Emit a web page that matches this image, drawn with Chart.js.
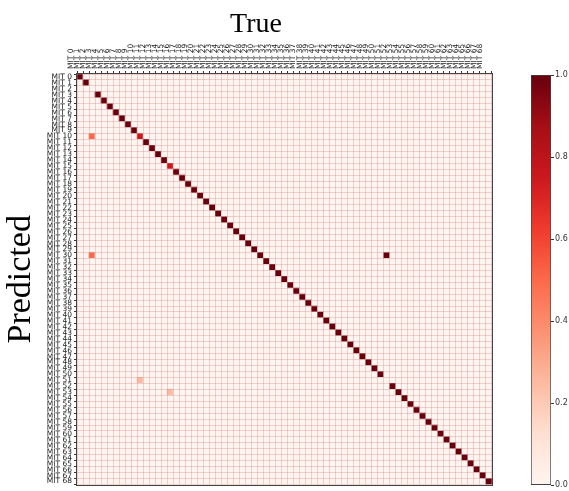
<!DOCTYPE html>
<html lang="en">
<head>
    <meta charset="UTF-8">
    <title>Confusion matrix</title>
    <script src="https://cdn.jsdelivr.net/npm/chart.js"></script>
    <style>
        body {
            margin: 0;
            background: #ffffff;
        }

        #wrap {
            position: relative;
            width: 569px;
            height: 491px;
            overflow: hidden;
        }

        #matrix {
            position: absolute;
            left: 0;
            top: 0;
        }

        #cbar {
            position: absolute;
            left: 500px;
            top: 60px;
        }

        #trueTitle {
            position: absolute;
            left: 156px;
            width: 200px;
            top: 9px;
            text-align: center;
            font-family: 'Liberation Serif', serif;
            font-size: 28px;
            line-height: 1;
            color: #000;
        }
    </style>
    <script>
        // class names (same list for rows and columns)
        const classLabels = [];
        for (let i = 0; i <= 68; i++) classLabels.push('MIT ' + i);

        // diagonal of the normalised matrix, MIT 0 .. MIT 68
        const diagValues = [
            1, 1, 0, 1, 1, 1, 1, 1, 1, 1,
            0.75, 1, 1, 1, 1, 0.75, 1, 1, 1, 1,
            1, 1, 1, 1, 1, 1, 1, 1, 1, 1,
            1, 1, 1, 1, 1, 1, 1, 1, 1, 1,
            1, 1, 1, 1, 1, 1, 1, 1, 1, 1,
            1, 0, 1, 1, 1, 1, 1, 1, 1, 1,
            1, 1, 1, 1, 1, 1, 1, 1, 1
        ];

        // off-diagonal cells: predicted row, true column, value
        const offRows = [10, 30, 51, 53, 30];
        const offCols = [2, 2, 10, 15, 51];
        const offValues = [0.5, 0.5, 0.25, 0.25, 1.0];

        // colorbar ticks
        const cbarTicks = [0, 0.2, 0.4, 0.6, 0.8, 1.0];

        // matplotlib "Reds"
        const reds = ['#fff5f0', '#fee0d2', '#fcbba1', '#fc9272', '#fb6a4a', '#ef3b2c', '#cb181d', '#a50f15', '#67000d'];

        function hexRgb(h) {
            return [parseInt(h.slice(1, 3), 16), parseInt(h.slice(3, 5), 16), parseInt(h.slice(5, 7), 16)];
        }

        function redsColor(v) {
            const p = Math.max(0, Math.min(1, v)) * (reds.length - 1);
            const i = Math.min(Math.floor(p), reds.length - 2);
            const f = p - i;
            const a = hexRgb(reds[i]), b = hexRgb(reds[i + 1]);
            const c = a.map((x, k) => Math.round(x + (b[k] - x) * f));
            return 'rgb(' + c.join(',') + ')';
        }

        document.addEventListener("DOMContentLoaded", function () {
            const n = classLabels.length;
            const matrix = [];
            for (let r = 0; r < n; r++) {
                matrix.push(new Array(n).fill(0));
                matrix[r][r] = diagValues[r];
            }
            for (let k = 0; k < offRows.length; k++) {
                matrix[offRows[k]][offCols[k]] = offValues[k];
            }

            const cells = [];
            for (let r = 0; r < n; r++) {
                for (let c = 0; c < n; c++) {
                    cells.push({ x: classLabels[c], y: [r - 0.5, r + 0.5], v: matrix[r][c] });
                }
            }

            const gridColor = 'rgba(215, 135, 135, 0.35)';
            const tickFont = { family: 'DejaVu Sans', size: 7.5 };

            const frame = {
                id: 'frame',
                afterDraw(chart) {
                    const a = chart.chartArea, ctx = chart.ctx;
                    ctx.save();
                    ctx.strokeStyle = '#444';
                    ctx.lineWidth = 1;
                    ctx.strokeRect(Math.round(a.left) - 0.5, Math.round(a.top) - 0.5,
                        Math.round(a.right - a.left) + 1, Math.round(a.bottom - a.top) + 1);
                    ctx.restore();
                }
            };

            new Chart(document.getElementById('matrix'), {
                type: 'bar',
                data: {
                    labels: classLabels,
                    datasets: [{
                        data: cells,
                        backgroundColor: ctx => redsColor(ctx.raw ? ctx.raw.v : 0),
                        borderWidth: 0,
                        barPercentage: 1,
                        categoryPercentage: 1,
                        yAxisID: 'y'
                    }]
                },
                options: {
                    responsive: false,
                    animation: false,
                    events: [],
                    layout: { padding: { left: 0, top: 0, right: 77, bottom: 3 } },
                    plugins: {
                        legend: { display: false },
                        tooltip: { enabled: false }
                    },
                    scales: {
                        x: {
                            type: 'category',
                            position: 'top',
                            offset: true,
                            grid: { offset: true, color: gridColor, z: 1, tickColor: '#333', tickLength: 3 },
                            border: { display: false },
                            ticks: {
                                autoSkip: false,
                                minRotation: 90,
                                maxRotation: 90,
                                padding: 2,
                                color: '#222',
                                font: tickFont
                            },
                            afterFit: s => { s.height = 74; }
                        },
                        y: {
                            type: 'linear',
                            display: false,
                            reverse: true,
                            min: -0.5,
                            max: n - 0.5
                        },
                        yl: {
                            type: 'category',
                            position: 'left',
                            labels: classLabels,
                            offset: true,
                            grid: { offset: true, color: gridColor, z: 1, tickColor: '#333', tickLength: 3 },
                            border: { display: false },
                            ticks: { autoSkip: false, padding: 2, color: '#222', font: tickFont },
                            title: {
                                display: true,
                                text: 'Predicted',
                                color: '#000',
                                font: { family: 'Liberation Serif', size: 34 },
                                padding: { top: 1, bottom: 0 }
                            },
                            afterFit: s => { s.width = 77; }
                        }
                    }
                },
                plugins: [frame]
            });

            // colorbar
            new Chart(document.getElementById('cbar'), {
                type: 'bar',
                data: {
                    labels: [''],
                    datasets: [{
                        data: [[cbarTicks[0], cbarTicks[cbarTicks.length - 1]]],
                        backgroundColor: ctx => {
                            const a = ctx.chart.chartArea;
                            if (!a) return reds[0];
                            const g = ctx.chart.ctx.createLinearGradient(0, a.bottom, 0, a.top);
                            reds.forEach((c, i) => g.addColorStop(i / (reds.length - 1), c));
                            return g;
                        },
                        borderColor: '#444',
                        borderWidth: 1,
                        borderSkipped: false,
                        barPercentage: 1,
                        categoryPercentage: 1
                    }]
                },
                options: {
                    responsive: false,
                    animation: false,
                    events: [],
                    layout: { padding: { left: 31, top: 15, right: 0, bottom: 5 } },
                    plugins: {
                        legend: { display: false },
                        tooltip: { enabled: false }
                    },
                    scales: {
                        x: { display: false },
                        y: {
                            position: 'right',
                            min: 0,
                            max: 1,
                            afterBuildTicks: s => { s.ticks = cbarTicks.map(v => ({ value: v })); },
                            ticks: {
                                padding: 1,
                                color: '#333',
                                font: { family: 'DejaVu Sans', size: 8 },
                                callback: v => Number(v).toFixed(1)
                            },
                            grid: { drawOnChartArea: false, tickLength: 3, tickColor: '#333' },
                            border: { display: false },
                            afterFit: s => { s.width = 18; }
                        }
                    }
                }
            });
        });
    </script>
</head>
<body>
    <div id="wrap">
        <canvas id="matrix" width="569" height="491"></canvas>
        <canvas id="cbar" width="69" height="431"></canvas>
        <div id="trueTitle">True</div>
    </div>
</body>
</html>
